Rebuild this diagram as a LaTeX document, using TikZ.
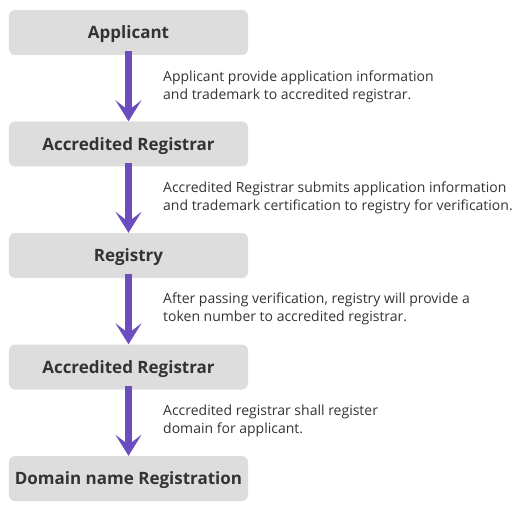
\documentclass[tikz,border=0pt]{standalone}
\usepackage{fontspec}
\setmainfont{Open Sans}
\usetikzlibrary{arrows.meta}

\definecolor{boxgray}{HTML}{DDDDDD}
\definecolor{flowpurple}{HTML}{6C4CBF}
\definecolor{inkgray}{HTML}{333333}

\tikzset{
  stage/.style={fill=boxgray, rounded corners=6bp, minimum width=239bp,
    minimum height=45bp, inner sep=0pt, text=inkgray,
    text height=12.2bp, text depth=0pt,
    font=\fontsize{17bp}{20bp}\selectfont\bfseries},
  note/.style={anchor=west, align=left, inner sep=0pt, text=inkgray,
    font=\fontsize{14bp}{18bp}\selectfont},
  flow/.style={draw=flowpurple, line width=7.5bp,
    -{Stealth[length=21bp, width=26bp, inset=10bp, flowpurple]}}
}

\begin{document}
\begin{tikzpicture}[x=1bp, y=-1bp]
                \useasboundingbox (0,0) rectangle (520,514);

                \node[stage] (applicant) at (128.5, 32.5) {Applicant};
                \node[stage] (registrarA) at (128.5, 144) {Accredited Registrar};
                \node[stage] (registry) at (128.5, 255.5) {Registry};
                \node[stage] (registrarB) at (128.5, 367) {Accredited Registrar};
                \node[stage] (domain) at (128.5, 478.5) {Domain name Registration};

                \draw[flow] ([yshift=4bp]applicant.south) -- (registrarA.north);
                \draw[flow] ([yshift=4bp]registrarA.south) -- (registry.north);
                \draw[flow] ([yshift=4bp]registry.south) -- (registrarB.north);
                \draw[flow] ([yshift=4bp]registrarB.south) -- (domain.north);

                \node[note] (noteA) at (163, 86.5) {Applicant provide application information\\and trademark to accredited registrar.};
                \node[note] (noteB) at (163, 198) {Accredited Registrar submits application information\\and trademark certification to registry for verification.};
                \node[note] (noteC) at (163, 308.5) {After passing verification, registry will provide a\\token number to accredited registrar.};
                \node[note] (noteD) at (163, 421) {Accredited registrar shall register\\domain for applicant.};
            \end{tikzpicture}
\end{document}
